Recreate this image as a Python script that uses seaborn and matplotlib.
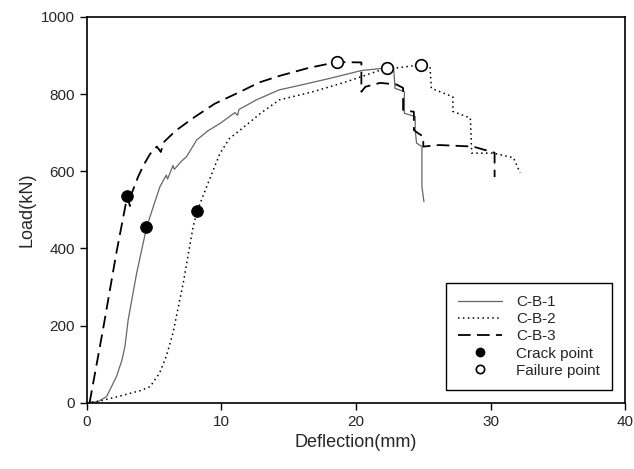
import matplotlib
matplotlib.use('Agg')
import matplotlib.pyplot as plt
from matplotlib.lines import Line2D
import seaborn as sns

# load-deflection data
cb1_x = [0.0, 0.8, 1.46, 2.2, 2.6, 2.83, 3.07, 3.7, 4.44, 5.0, 5.43, 5.9, 6.0, 6.17, 6.4, 6.5, 7.0, 7.41,
         8.16, 9.0, 9.9, 11.0, 11.2, 11.3, 12.6, 14.3, 15.6, 18.1, 20.4, 22.3, 22.8, 22.9, 23.6, 23.6,
         24.4, 24.4, 24.5, 24.9, 24.9, 25.05]
cb1_y = [0, 3, 16, 68, 110, 146, 215, 336, 455, 515, 560, 590, 580, 595, 615, 605, 625, 638,
         681, 705, 724, 752, 745, 760, 785, 811, 821, 841, 861, 868, 867, 815, 806, 750,
         742, 707, 673, 664, 560, 521]

cb2_x = [0.0, 1.0, 2.5, 4.0, 4.7, 5.4, 5.9, 6.4, 7.16, 7.9, 8.2, 8.9, 9.9, 10.6, 11.4, 12.9, 14.3, 16.8,
         19.3, 21.8, 24.8, 25.5, 25.6, 27.2, 27.2, 28.5, 28.6, 30.2, 31.7, 32.2]
cb2_y = [0, 5, 18, 32, 42, 77, 120, 181, 310, 457, 497, 560, 647, 685, 707, 750, 785, 806,
         832, 862, 876, 871, 815, 793, 755, 738, 647, 647, 635, 596]

cb3_x = [0.2, 1.2, 2.2, 3.0, 3.2, 3.3, 3.8, 4.2, 4.7, 5.2, 5.5, 5.7, 6.6, 7.9, 9.5, 11.4, 12.8, 14.3,
         16.5, 18.6, 20.4, 20.4, 20.7, 21.8, 23.0, 23.5, 23.5, 24.3, 24.3, 24.6, 25.0, 25.0, 26.2,
         28.7, 30.0, 30.3, 30.3]
cb3_y = [0, 190, 390, 535, 510, 540, 585, 615, 645, 664, 650, 675, 705, 738, 775, 806, 830, 847,
         868, 883, 882, 806, 819, 829, 825, 816, 759, 754, 707, 699, 690, 664, 668,
         664, 651, 648, 585]

crack_x = [3.0, 4.4, 8.2]
crack_y = [535, 455, 497]
fail_x = [18.6, 22.3, 24.8]
fail_y = [883, 868, 876]

sns.set_style('ticks')
plt.rcParams['font.family'] = ['Liberation Sans', 'DejaVu Sans']

fig = plt.figure(figsize=(6.34, 4.69), dpi=100)
ax = fig.add_axes([0.137, 0.141, 0.849, 0.823])

solid = dict(color='#666666', linewidth=0.9)
dotted = dict(color='black', linewidth=1.1, linestyle=(0, (1, 2.2)))
dashed = dict(color='black', linewidth=1.3, linestyle=(0, (7, 3.5)))

sns.lineplot(x=cb1_x, y=cb1_y, sort=False, estimator=None, ax=ax, **solid)
sns.lineplot(x=cb2_x, y=cb2_y, sort=False, estimator=None, ax=ax, **dotted)
sns.lineplot(x=cb3_x, y=cb3_y, sort=False, estimator=None, ax=ax, **dashed)

sns.scatterplot(x=crack_x, y=crack_y, ax=ax, color='black', s=70, edgecolor='black', zorder=5)
sns.scatterplot(x=fail_x, y=fail_y, ax=ax, facecolor='white', s=70, edgecolor='black',
                linewidth=1.2, zorder=5)

ax.set_xlim(0, 40)
ax.set_ylim(0, 1000)
ax.set_xticks([0, 10, 20, 30, 40])
ax.set_yticks([0, 200, 400, 600, 800, 1000])
ax.tick_params(labelsize=11, direction='out', length=5, width=1, color='black')
for sp in ax.spines.values():
    sp.set_color('black')
    sp.set_linewidth(1.2)
ax.set_xlabel('Deflection(mm)', fontsize=13)
ax.set_ylabel('Load(kN)', fontsize=13)

handles = [
    Line2D([], [], **solid),
    Line2D([], [], **dotted),
    Line2D([], [], **dashed),
    Line2D([], [], linestyle='none', marker='o', markersize=6, color='black'),
    Line2D([], [], linestyle='none', marker='o', markersize=6, markerfacecolor='white',
           markeredgecolor='black', markeredgewidth=1.2),
]
labels = ['C-B-1', 'C-B-2', 'C-B-3', 'Crack point', 'Failure point']
leg = ax.legend(handles, labels, loc='lower right', bbox_to_anchor=(0.99, 0.014), fontsize=11,
                frameon=True, fancybox=False, edgecolor='black', framealpha=1, numpoints=1,
                handlelength=2.9, labelspacing=0.2, borderpad=0.8, handletextpad=0.9)
leg.get_frame().set_linewidth(1.0)

fig.savefig('out.png', dpi=100)
